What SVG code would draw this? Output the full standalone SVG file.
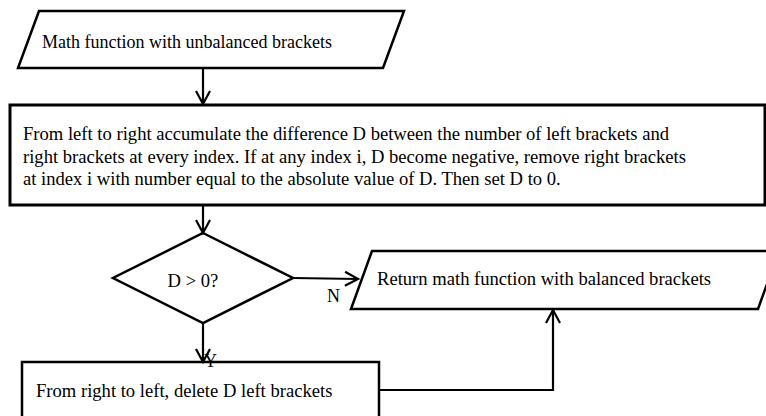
<svg xmlns="http://www.w3.org/2000/svg" width="766" height="416" viewBox="0 0 766 416">
<style>
  .shape { fill: #fff; stroke: #000; stroke-width: 2.5; stroke-linejoin: miter; }
  .thick { stroke-width: 3; }
  .conn { fill: none; stroke: #000; stroke-width: 2.2; }
  text { font-family: "Liberation Serif", "Times New Roman", serif; font-size: 18.6px; fill: #000; }
  .t18 { font-size: 18px; }
</style>
<defs>
  <marker id="arr" viewBox="-15 -9 18 18" refX="0" refY="0" markerWidth="18" markerHeight="18" markerUnits="userSpaceOnUse" orient="auto">
    <path d="M-13,-7 L0,0 L-13,7" fill="none" stroke="#000" stroke-width="2.2"/>
  </marker>
</defs>
<rect width="766" height="416" fill="#fff"/>
<g id="input">
  <polygon class="shape" points="39,11 404,11 383,68 18,68"/>
  <text x="42" y="48" class="t18">Math function with unbalanced brackets</text>
</g>
<g id="accumulate">
  <rect class="shape thick" x="10" y="105" width="755" height="100"/>
  <text x="23" y="140">From left to right accumulate the difference D between the number of left brackets and</text>
  <text x="23" y="163">right brackets at every index. If at any index i, D become negative, remove right brackets</text>
  <text x="23" y="185">at index i with number equal to the absolute value of D. Then set D to 0.</text>
</g>
<g id="decision">
  <polygon class="shape" points="203,233 293,278 203,323 113,278"/>
  <text x="193" y="287" text-anchor="middle">D &gt; 0?</text>
</g>
<g id="output">
  <polygon class="shape" points="372,251 779,251 758,309 351,309"/>
  <text x="377" y="285">Return math function with balanced brackets</text>
</g>
<g id="delete">
  <rect class="shape" x="22" y="362" width="357" height="60"/>
  <text x="36" y="397">From right to left, delete D left brackets</text>
</g>
<g id="connectors">
  <line class="conn" x1="203" y1="68" x2="203" y2="104" marker-end="url(#arr)"/>
  <line class="conn" x1="203" y1="205" x2="203" y2="233" marker-end="url(#arr)"/>
  <line class="conn" x1="293" y1="278" x2="358" y2="279" marker-end="url(#arr)"/>
  <line class="conn" x1="203" y1="323" x2="203" y2="362" marker-end="url(#arr)"/>
  <polyline class="conn" points="379,390 553,390 553,310" marker-end="url(#arr)"/>
  <text x="327" y="302" class="t18">N</text>
  <text x="204" y="367" class="t18">Y</text>
</g>
</svg>
